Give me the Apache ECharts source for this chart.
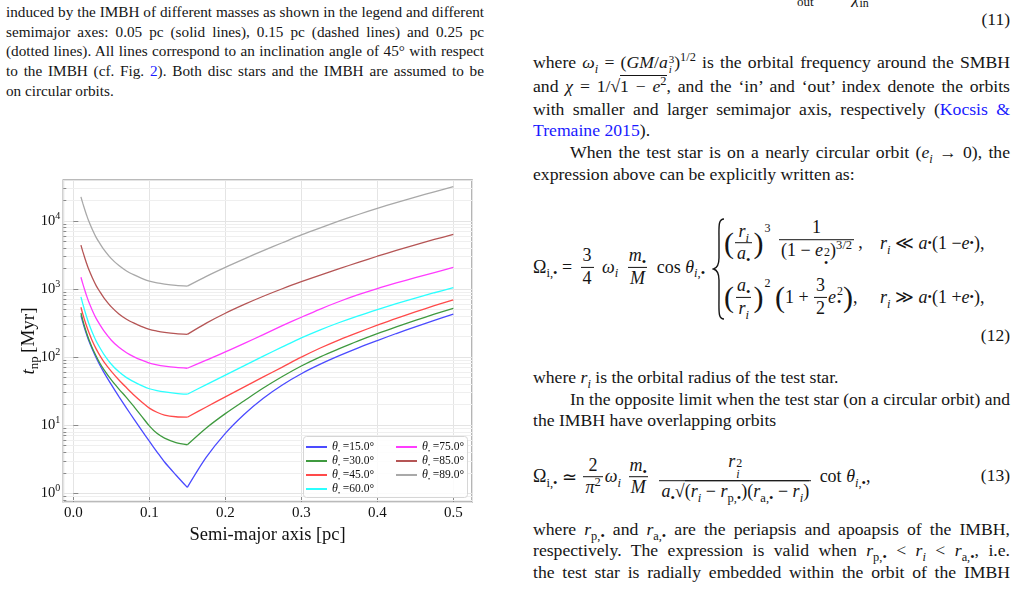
<!DOCTYPE html>
<html><head><meta charset="utf-8">
<script src="https://cdn.jsdelivr.net/npm/echarts@6/dist/echarts.min.js"></script>
<style>
html,body{margin:0;padding:0;}
body{width:1017px;height:590px;overflow:hidden;background:#fff;font-family:"Liberation Serif","Times New Roman",serif;color:#151515;position:relative;}
.ln{position:absolute;white-space:nowrap;text-align:justify;text-align-last:justify;line-height:20px;}
.cap{left:6px;width:478px;font-size:15px;}
.bd{left:533px;width:477px;font-size:17.5px;}
.la{text-align-last:left;}
.ind{text-indent:37px;}
.lk{color:#1a1aff;}
i{font-style:italic;}
sub,sup{font-size:70%;line-height:0;}
.ss{display:inline-flex;flex-direction:column;vertical-align:middle;font-size:11px;line-height:10px;margin-left:1px;}
.num{position:absolute;right:7px;font-size:17.5px;line-height:20px;}
.eq{position:absolute;left:533px;display:flex;align-items:center;white-space:nowrap;font-size:18px;transform:translateY(-50%);}
.fr{display:inline-flex;flex-direction:column;align-items:center;vertical-align:middle;margin:0 4px;line-height:1.2;}
.fr>span{display:block;padding:0 2px;}
.fr>span+span{border-top:1px solid #151515;}
.bp{font-size:30px;line-height:1;display:inline-block;}
.st{display:inline-flex;flex-direction:column;font-size:12px;line-height:11px;margin-left:1px;}
.pw{font-size:12px;position:relative;top:-14px;margin-left:1px;}
#chart{position:absolute;left:0;top:160px;width:500px;height:390px;}
</style></head>
<body>
<div class="ln cap" style="top:2px">induced by the IMBH of different masses as shown in the legend and different</div>
<div class="ln cap" style="top:21.7px">semimajor axes: 0.05 pc (solid lines), 0.15 pc (dashed lines) and 0.25 pc</div>
<div class="ln cap" style="top:41.4px">(dotted lines). All lines correspond to an inclination angle of 45° with respect</div>
<div class="ln cap" style="top:61.1px">to the IMBH (cf. Fig. <span class="lk">2</span>). Both disc stars and the IMBH are assumed to be</div>
<div class="ln cap la" style="top:80.8px">on circular orbits.</div>

<span style="position:absolute;left:797px;top:-6px;font-size:13px;">out</span>
<span style="position:absolute;left:852px;top:-12px;font-size:17px;"><i>χ</i><sub>in</sub></span>
<div class="num" style="top:9px">(11)</div>

<div class="ln bd mx" style="top:51.8px">where <i>ω<sub>i</sub></i> = (<i>GM</i>/<i>a</i><span class="ss"><span>3</span><span><i>i</i></span></span>)<sup>1/2</sup> is the orbital frequency around the SMBH</div>
<div class="ln bd mx" style="top:76.2px">and <i>χ</i> = 1/√<span style="border-top:1px solid #151515">1 − <i>e</i><sup>2</sup></span>, and the ‘in’ and ‘out’ index denote the orbits</div>
<div class="ln bd" style="top:98.5px">with smaller and larger semimajor axis, respectively (<span class="lk">Kocsis &amp;</span></div>
<div class="ln bd la" style="top:120.2px"><span class="lk">Tremaine 2015</span>).</div>
<div class="ln bd ind" style="top:141.8px">When the test star is on a nearly circular orbit (<i>e<sub>i</sub></i> → 0), the</div>
<div class="ln bd la" style="top:163.5px">expression above can be explicitly written as:</div>

<div class="eq" style="top:267px">Ω<sub style="margin-top:12px">i,•</sub>&nbsp;=&nbsp;<span class="fr"><span>3</span><span>4</span></span>&nbsp;<i>ω</i><sub style="margin-top:12px"><i>i</i></sub>&nbsp;<span class="fr"><span><i>m</i><sub>•</sub></span><span><i>M</i></span></span>&nbsp;cos&nbsp;<i>θ</i><sub style="margin-top:12px"><i>i</i>,•</sub></div>
<svg style="position:absolute;left:712px;top:218px;" width="14" height="102" viewBox="0 0 14 102"><path d="M12,1 C6,1 7,9 7,22 L7,40 C7,47 5,50 1.5,51 C5,52 7,55 7,62 L7,80 C7,93 6,101 12,101" fill="none" stroke="#151515" stroke-width="1.4"/></svg>
<div class="eq" style="top:243px;left:724px;"><span class="bp">(</span><span class="fr" style="margin:0 1px"><span><i>r<sub>i</sub></i></span><span><i>a</i><sub>•</sub></span></span><span class="bp">)</span><span class="pw">3</span>&nbsp;<span class="fr"><span>1</span><span>(1 − <i>e</i><span class="st"><span>2</span><span>•</span></span>)<sup>3/2</sup></span></span>,</div>
<div class="eq" style="top:297px;left:724px;"><span class="bp">(</span><span class="fr" style="margin:0 1px"><span><i>a</i><sub>•</sub></span><span><i>r<sub>i</sub></i></span></span><span class="bp">)</span><span class="pw">2</span>&nbsp;<span class="bp">(</span>1 +&nbsp;<span class="fr" style="margin:0 1px"><span>3</span><span>2</span></span><i>e</i><span class="st"><span>2</span><span>•</span></span><span class="bp">)</span>,</div>
<div class="eq" style="top:243px;left:880px;"><i>r<sub>i</sub></i>&nbsp;≪&nbsp;<i>a</i><sub>•</sub>(1 − <i>e</i><sub>•</sub>),</div>
<div class="eq" style="top:297px;left:880px;"><i>r<sub>i</sub></i>&nbsp;≫&nbsp;<i>a</i><sub>•</sub>(1 + <i>e</i><sub>•</sub>),</div>
<div class="num" style="top:325px">(12)</div>

<div class="ln bd la" style="top:366.8px">where <i>r<sub>i</sub></i> is the orbital radius of the test star.</div>
<div class="ln bd ind" style="top:389.2px">In the opposite limit when the test star (on a circular orbit) and</div>
<div class="ln bd la" style="top:410.2px">the IMBH have overlapping orbits</div>

<div class="eq" style="top:477px">Ω<sub style="margin-top:12px">i,•</sub>&nbsp;≃&nbsp;<span class="fr" style="margin:0 2px"><span>2</span><span><i>π</i><sup>2</sup></span></span><i>ω</i><sub style="margin-top:12px"><i>i</i></sub>&nbsp;<span class="fr" style="margin:0 2px"><span><i>m</i><sub>•</sub></span><span><i>M</i></span></span>&nbsp;<span class="fr"><span><i>r</i><span class="st"><span>2</span><span><i>i</i></span></span></span><span><i>a</i><sub>•</sub>√<span style="border-top:1px solid #151515">(<i>r<sub>i</sub></i> − <i>r</i><sub>p,•</sub>)(<i>r</i><sub>a,•</sub> − <i>r<sub>i</sub></i>)</span></span></span>&nbsp;cot&nbsp;<i>θ</i><sub style="margin-top:12px"><i>i</i>,•</sub>,</div>
<div class="num" style="top:465px">(13)</div>

<div class="ln bd mx" style="top:518.5px">where <i>r</i><sub>p,•</sub> and <i>r</i><sub>a,•</sub> are the periapsis and apoapsis of the IMBH,</div>
<div class="ln bd mx" style="top:540.2px">respectively. The expression is valid when <i>r</i><sub>p,•</sub> &lt; <i>r<sub>i</sub></i> &lt; <i>r</i><sub>a,•</sub>, i.e.</div>
<div class="ln bd" style="top:561.8px">the test star is radially embedded within the orbit of the IMBH</div>

<div id="chart"></div>
<script>
// pick one font size per text block so that its tightest justified line just fits
function naturalWidth(el) {
  const probe = document.createElement('span');
  probe.style.cssText = 'position:absolute;visibility:hidden;white-space:nowrap;';
  probe.style.fontSize = getComputedStyle(el).fontSize;
  probe.innerHTML = el.innerHTML;
  document.body.appendChild(probe);
  const w = probe.offsetWidth + (parseFloat(getComputedStyle(el).textIndent) || 0);
  probe.remove();
  return w;
}
function fitGroup(sel, base) {
  const els = Array.from(document.querySelectorAll(sel));
  els.forEach(el => { el.style.fontSize = base + 'px'; });
  let ratio = 1;
  els.forEach(el => {
    if (el.classList.contains('la') || el.classList.contains('mx')) return;
    ratio = Math.max(ratio, naturalWidth(el) / el.clientWidth);
  });
  const size = base / ratio * 0.997;
  els.forEach(el => { el.style.fontSize = size + 'px'; });
  els.forEach(el => {
    const r = naturalWidth(el) / el.clientWidth;
    if (r > 1) el.style.fontSize = (size / r * 0.997) + 'px';
  });
}
fitGroup('.cap', 17);
fitGroup('.bd', 19.5);

// ---- data ----
const semiMajorAxis = [0.01, 0.0125, 0.015, 0.0175, 0.02, 0.025, 0.03, 0.035, 0.04, 0.05, 0.06, 0.07, 0.08, 0.09, 0.1, 0.11, 0.12, 0.135, 0.15,
  0.175, 0.2, 0.225, 0.25, 0.275, 0.3, 0.325, 0.35, 0.375, 0.4, 0.425, 0.45, 0.475, 0.5];
const tnp15 = [411, 324, 260, 214, 178, 130, 97.7, 75.9, 60.3, 39.4, 26.3, 17.8, 12.2, 8.41, 5.82, 4.07, 2.88, 1.86, 1.22,
  3.39, 7.59, 14.5, 24.9, 39.0, 57.0, 78.7, 105, 137, 175, 222, 278, 346, 428];
const tnp30 = [444, 347, 277, 226, 188, 136, 104, 81.3, 66.1, 46.2, 33.9, 25.4, 18.6, 13.5, 9.77, 7.59, 6.46, 5.56, 5.16,
  9.12, 14.8, 22.9, 35.1, 51.9, 74.1, 101, 133, 173, 221, 278, 346, 426, 520];
const tnp45 = [540, 427, 344, 283, 237, 172, 132, 105, 86.1, 61.7, 46.2, 35.5, 27.5, 21.9, 17.8, 15.5, 14.1, 13.3, 13.1,
  18.5, 26.1, 36.6, 51.2, 71.4, 99.8, 136, 179.5, 231, 294, 371, 461, 568, 695];
const tnp60 = [765, 602, 482, 390, 320, 230, 172.6, 137, 110.9, 78.6, 60.8, 50, 43.2, 38.1, 34.3, 32.2, 30.8, 29.4, 28.5,
  39.4, 54.3, 75.0, 103.5, 141, 191, 251, 322, 404, 499, 610, 736, 881, 1047];
const tnp75 = [1490, 1191, 968, 793, 660, 485, 370, 298, 244.5, 177, 139, 116, 101, 90, 81.6, 76.9, 73.7, 70.5, 68.6,
  90.4, 119, 159, 214, 289, 385, 508, 655, 824, 1014, 1225, 1466, 1742, 2070];
const tnp85 = [4400, 3535, 2883, 2373, 1980, 1463, 1123, 909, 748, 546, 431, 360, 315, 281, 255, 241, 231, 221, 216,
  316, 441, 594, 783, 1009, 1279, 1603, 1991, 2460, 3027, 3690, 4457, 5333, 6339];
const tnp89 = [22500, 18070, 14740, 12130, 10125, 7480, 5740, 4645, 3825, 2790, 2205, 1841, 1610, 1435, 1305, 1230, 1181, 1130, 1100,
  1535, 2080, 2773, 3664, 4775, 6223, 7925, 9977, 12420, 15280, 18580, 22340, 26730, 31920];
const inclinations = ['15.0', '30.0', '45.0', '60.0', '75.0', '85.0', '89.0'];
const curves = [tnp15, tnp30, tnp45, tnp60, tnp75, tnp85, tnp89];
const lineColors = ['#4b4bff', '#3f9a3f', '#ff4a4a', '#2bffff', '#ff3cff', '#b55555', '#a9a9a9'];
const xTickLabels = ['0.0', '0.1', '0.2', '0.3', '0.4', '0.5'];
const imbhSemiMajorAxis = 0.15;   // position of the cusp (IMBH orbit)

// ---- chart ----
const FONT = '"Liberation Serif", "Times New Roman", serif';
const X_MIN = -0.0132, X_MAX = 0.5246, Y_MIN = 0.745, Y_MAX = 39870;
const names = inclinations.map(v => 'θ• =' + v + '°');
const cusp = semiMajorAxis.indexOf(imbhSemiMajorAxis);

const minorValues = [];
for (let k = -1; k <= 4; k++) {
  for (let m = 2; m <= 9; m++) {
    const v = m * Math.pow(10, k);
    if (v > Y_MIN && v < Y_MAX) minorValues.push(v);
  }
}
const tickLen = (X_MAX - X_MIN) * 3 / 408.7;

const series = [];
curves.forEach((vals, i) => {
  const pts = semiMajorAxis.map((a, j) => [a, vals[j]]);
  [pts.slice(0, cusp + 1), pts.slice(cusp)].forEach(branch => {
    series.push({
      name: names[i], type: 'line', symbol: 'none', showSymbol: false, silent: true, z: 3,
      smooth: 0.3,
      data: branch,
      lineStyle: { color: lineColors[i], width: 1.3 },
      itemStyle: { color: lineColors[i] }
    });
  });
});
series.push({
  type: 'line', symbol: 'none', silent: true, z: 1,
  data: [[semiMajorAxis[0], tnp15[0]]],
  lineStyle: { opacity: 0 },
  markLine: {
    z: 1, silent: true, symbol: 'none', label: { show: false }, animation: false,
    lineStyle: { color: '#efefef', width: 1, type: 'solid' },
    data: minorValues.map(v => ({ yAxis: v }))
  }
});
series.push({
  type: 'line', symbol: 'none', silent: true, z: 2,
  data: [[semiMajorAxis[0], tnp15[0]]],
  lineStyle: { opacity: 0 },
  markLine: {
    z: 2, silent: true, symbol: 'none', label: { show: false }, animation: false,
    lineStyle: { color: '#8a8a8a', width: 1, type: 'solid' },
    data: minorValues.map(v => [{ coord: [X_MIN, v] }, { coord: [X_MIN + tickLen, v] }])
  }
});

const legendText = {
  fontFamily: FONT, color: '#111',
  rich: {
    t: { fontFamily: FONT, fontStyle: 'italic', fontSize: 12, lineHeight: 14, color: '#111' },
    s: { fontFamily: FONT, fontSize: 6, lineHeight: 7, verticalAlign: 'bottom', color: '#111' },
    u: { fontFamily: FONT, fontSize: 11.5, lineHeight: 14, color: '#111' }
  }
};
const legendFormatter = name => '{t|θ}{s|•}{u| =' + name.split('=')[1] + '}';
const legendBase = {
  orient: 'vertical', top: 281, itemWidth: 21, itemHeight: 10, itemGap: 1, padding: 0,
  selectedMode: false, z: 6, textStyle: legendText, formatter: legendFormatter,
  lineStyle: { width: 2 },
  itemStyle: { opacity: 0, borderWidth: 0 }
};

const chart = echarts.init(document.getElementById('chart'), null, { renderer: 'canvas' });
chart.setOption({
  animation: false,
  grid: { left: 63.3, top: 20, width: 408.7, height: 322, show: true, borderColor: '#a4a4a4', borderWidth: 1.6, backgroundColor: 'transparent', containLabel: false },
  xAxis: {
    type: 'value', min: X_MIN, max: X_MAX,
    axisLine: { show: false },
    axisTick: { show: true, inside: true, length: 5, lineStyle: { color: '#8a8a8a', width: 1 } },
    axisLabel: { showMinLabel: false, showMaxLabel: false, formatter: v => xTickLabels[Math.round(v * 10)] || v.toFixed(1), color: '#111', fontFamily: FONT, fontSize: 15, margin: 4 },
    splitLine: { show: true, lineStyle: { color: '#e4e4e4', width: 1 } },
    name: 'Semi-major axis [pc]', nameLocation: 'middle', nameGap: 17,
    nameTextStyle: { fontFamily: FONT, fontSize: 18.5, color: '#111' }
  },
  yAxis: {
    type: 'log', logBase: 10, min: Y_MIN, max: Y_MAX,
    axisLine: { show: false },
    axisTick: { show: true, inside: true, length: 5, lineStyle: { color: '#8a8a8a', width: 1 } },
    axisLabel: {
      showMinLabel: false, showMaxLabel: false, margin: 3,
      formatter: v => '{b|10}{p|' + Math.round(Math.log10(v)) + '}',
      rich: {
        b: { fontFamily: FONT, fontSize: 14.5, lineHeight: 20, color: '#111' },
        p: { fontFamily: FONT, fontSize: 10, lineHeight: 10, verticalAlign: 'top', color: '#111' }
      }
    },
    splitLine: { show: true, lineStyle: { color: '#e4e4e4', width: 1 } },
    name: '{i|t}{s|np} {n|[Myr]}', nameLocation: 'middle', nameRotate: 90, nameGap: 22,
    nameMoveOverlap: false,
    nameTextStyle: {
      rich: {
        i: { fontFamily: FONT, fontStyle: 'italic', fontSize: 19, lineHeight: 24, color: '#111' },
        s: { fontFamily: FONT, fontSize: 13, lineHeight: 13, verticalAlign: 'bottom', color: '#111' },
        n: { fontFamily: FONT, fontSize: 19, lineHeight: 24, color: '#111' }
      }
    }
  },
  legend: [
    Object.assign({}, legendBase, { left: 305, data: names.slice(0, 4) }),
    Object.assign({}, legendBase, { left: 395, data: names.slice(4) })
  ],
  graphic: [{
    type: 'rect', left: 303, top: 276, z: 5, silent: true,
    shape: { width: 164, height: 61, r: 3 },
    style: { fill: 'rgba(255,255,255,0.85)', stroke: '#d6d6d6', lineWidth: 1 }
  }],
  series: series
});
</script>
</body></html>
